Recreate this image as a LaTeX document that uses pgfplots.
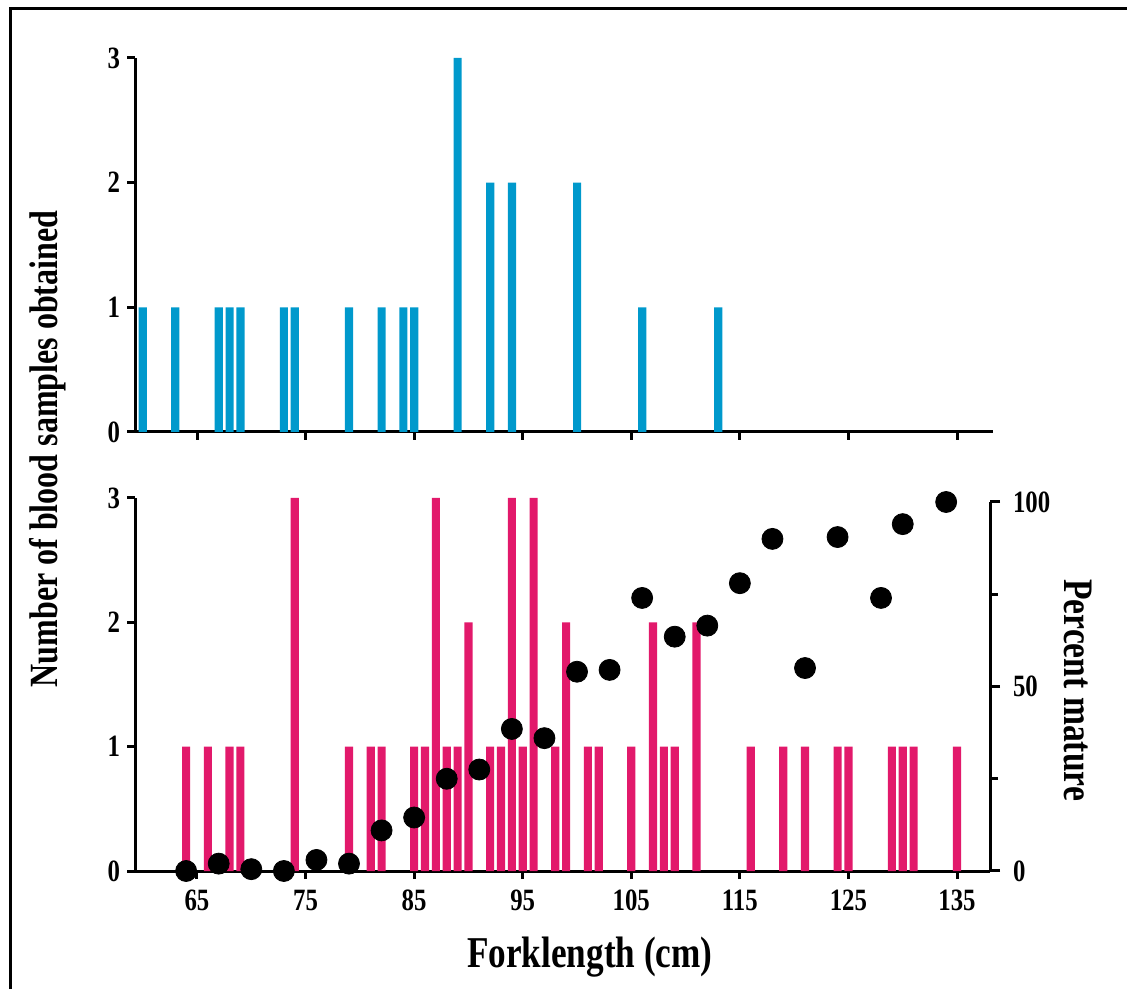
\documentclass[border=0pt]{standalone}
\usepackage{fontspec}
\setmainfont{Liberation Serif}[FakeStretch=0.8]
\usepackage{pgfplots}
\pgfplotsset{compat=1.18}
\definecolor{barblue}{RGB}{0,153,204}
\definecolor{barpink}{RGB}{226,25,107}

\pgfplotsset{
  panel/.style={
    scale only axis,
    anchor=south west,
    xmin=59.29,
    ymin=0, ymax=3,
    axis x line*=bottom,
    axis y line*=left,
    xtick={65,75,...,135},
    ytick={0,1,2,3},
    tick align=outside,
    major tick length=4pt,
    axis line style={line width=1.5pt},
    every tick/.style={line width=1.5pt, black},
    ticklabel style={font=\fontsize{15.5}{18}\selectfont\bfseries},
    /pgf/number format/assume math mode=true,
    ybar, bar width=0.75,
    clip=false,
  },
}

\begin{document}
\begin{tikzpicture}
\path[use as bounding box] (0,0) rectangle (563.5pt,494.5pt);
% frame of the figure (left and top edge only)
\draw[line width=1.5pt] (5pt,0) -- (5pt,490pt) -- (563.5pt,490pt);

% upper panel
\begin{axis}[panel,
  at={(67.5pt,278.5pt)},
  width=429pt, height=187pt,
  xmax=138.3,
  xticklabels={},
]
\addplot[fill=barblue, draw=none] coordinates {
  (60,1) (63,1) (67,1) (68,1) (69,1) (73,1) (74,1) (79,1) (82,1)
  (84,1) (85,1) (89,3) (92,2) (94,2) (100,2) (106,1) (113,1)
};
\end{axis}

% lower panel
\begin{axis}[panel,
  at={(67.5pt,59pt)},
  width=427.5pt, height=186.5pt,
  xmax=138.04,
  xticklabel style={yshift=-2pt},
  xlabel={Forklength (cm)},
  xlabel style={font=\fontsize{22}{26}\selectfont\bfseries,
    at={(axis description cs:0.532,0)}, anchor=center, yshift=-43pt},
]
\addplot[fill=barpink, draw=none] coordinates {
  (64,1) (66,1) (68,1) (69,1) (74,3) (79,1) (81,1) (82,1) (85,1)
  (86,1) (87,3) (88,1) (89,1) (90,2) (92,1) (93,1) (94,3) (95,1)
  (96,3) (98,1) (99,2) (101,1) (102,1) (105,1) (107,2) (108,1)
  (109,1) (111,2) (116,1) (119,1) (121,1) (124,1) (125,1) (129,1)
  (130,1) (131,1) (135,1)
};
\end{axis}

% percent mature, right axis
\begin{axis}[
  scale only axis,
  anchor=south west,
  at={(67.5pt,59pt)},
  width=427.5pt, height=184.5pt,
  xmin=59.29, xmax=138.04,
  ymin=0, ymax=100,
  axis x line=none,
  axis y line*=right,
  ytick={0,50,100},
  minor ytick={25,75},
  tick align=outside,
  major tick length=5pt,
  minor tick length=4pt,
  axis line style={line width=1.5pt},
  every tick/.style={line width=1.5pt, black},
  ticklabel style={font=\fontsize{15.5}{18}\selectfont\bfseries},
  yticklabel style={xshift=3pt},
  /pgf/number format/assume math mode=true,
  ylabel={Percent mature},
  ylabel style={font=\fontsize{21}{25}\selectfont\bfseries,
    at={(axis description cs:1.103,0.49)}, anchor=center, rotate=180},
  clip=false,
]
\addplot[only marks, mark=*, mark size=5.25pt, black] coordinates {
  (64,0) (67,2) (70,0.5) (73,0) (76,3) (79,2) (82,11) (85,14.5)
  (88,25) (91,27.5) (94,38.5) (97,36) (100,54) (103,54.5) (106,74)
  (109,63.5) (112,66.5) (115,78) (118,90) (121,55) (124,90.5)
  (128,74) (130,94) (134,100)
};
\end{axis}

\node[rotate=90, font=\fontsize{20}{24}\selectfont\bfseries]
  at (24pt,270pt) {Number of blood samples obtained};
\end{tikzpicture}
\end{document}
